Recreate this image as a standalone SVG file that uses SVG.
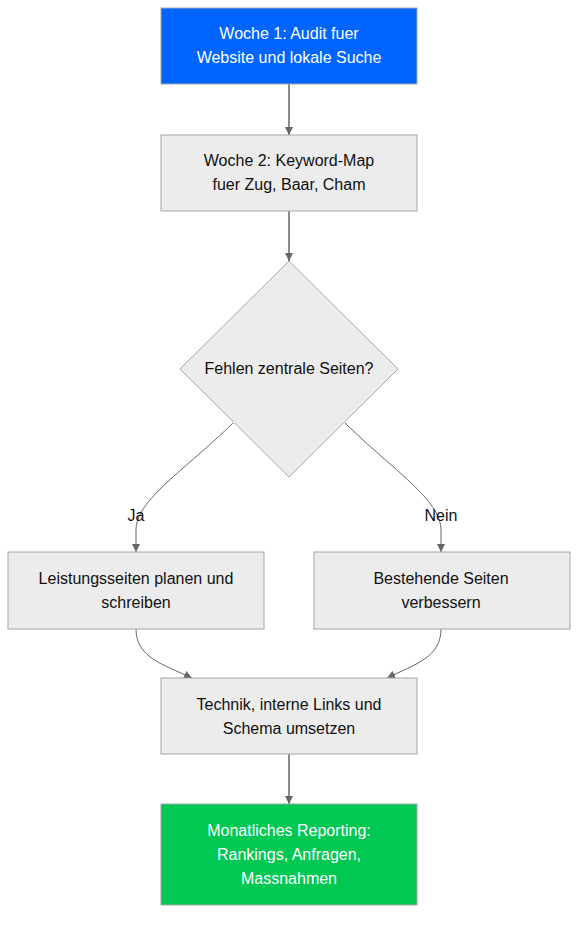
<svg xmlns="http://www.w3.org/2000/svg" width="586" height="926" viewBox="0 0 586 926">
<defs>
<marker id="arr" viewBox="0 0 10 10" refX="10" refY="5" markerWidth="8" markerHeight="8" markerUnits="userSpaceOnUse" orient="auto">
<path d="M0,0 L10,5 L0,10 z" fill="#666"/>
</marker>
</defs>
<style>
.n{fill:#ececec;stroke:#a6a6a6;stroke-width:1}
.t{font-family:"Liberation Sans",Arial,sans-serif;font-size:16px;fill:#111;text-anchor:middle}
.w{fill:#fff}
.e{fill:none;stroke:#666;stroke-width:1.5}
.c{fill:none;stroke:#666;stroke-width:1}
.l{font-family:"Liberation Sans",Arial,sans-serif;font-size:16px;fill:#111;text-anchor:middle}
</style>
<rect width="586" height="926" fill="#fff"/>
<g id="connectors">
<path class="e" d="M289,84 L289,135" marker-end="url(#arr)"/>
<path class="e" d="M289,211 L289,261" marker-end="url(#arr)"/>
<path class="c" d="M233,423 C185,470 136,500 136,530 L136,552" marker-end="url(#arr)"/>
<path class="c" d="M345,423 C393,470 441,500 441,530 L441,552" marker-end="url(#arr)"/>
<path class="c" d="M136,629 C136,657 162,664 192,678" marker-end="url(#arr)"/>
<path class="c" d="M441,629 C441,657 416,664 387,678" marker-end="url(#arr)"/>
<path class="e" d="M289,754 L289,804" marker-end="url(#arr)"/>
<text class="l" x="136" y="521">Ja</text>
<text class="l" x="441" y="521">Nein</text>
</g>
<g id="n1">
<rect x="161" y="8" width="256" height="76" fill="#0064ff" stroke="#a6a6a6"/>
<text class="t w" x="289" y="39">Woche 1: Audit fuer</text>
<text class="t w" x="289" y="63">Website und lokale Suche</text>
</g>
<g id="n2">
<rect class="n" x="161" y="135" width="256" height="76"/>
<text class="t" x="289" y="166">Woche 2: Keyword-Map</text>
<text class="t" x="289" y="190">fuer Zug, Baar, Cham</text>
</g>
<g id="n3">
<polygon class="n" points="289,261 398,369 289,477 180,369"/>
<text class="t" x="289" y="374">Fehlen zentrale Seiten?</text>
</g>
<g id="n4">
<rect class="n" x="8" y="552" width="256" height="77"/>
<text class="t" x="136" y="584">Leistungsseiten planen und</text>
<text class="t" x="136" y="608">schreiben</text>
</g>
<g id="n5">
<rect class="n" x="314" y="552" width="256" height="77"/>
<text class="t" x="441" y="584">Bestehende Seiten</text>
<text class="t" x="441" y="608">verbessern</text>
</g>
<g id="n6">
<rect class="n" x="161" y="678" width="256" height="76"/>
<text class="t" x="289" y="710">Technik, interne Links und</text>
<text class="t" x="289" y="734">Schema umsetzen</text>
</g>
<g id="n7">
<rect x="161" y="804" width="256" height="101" fill="#00c853" stroke="#a6a6a6"/>
<text class="t w" x="289" y="836">Monatliches Reporting:</text>
<text class="t w" x="289" y="860">Rankings, Anfragen,</text>
<text class="t w" x="289" y="884">Massnahmen</text>
</g>
</svg>
